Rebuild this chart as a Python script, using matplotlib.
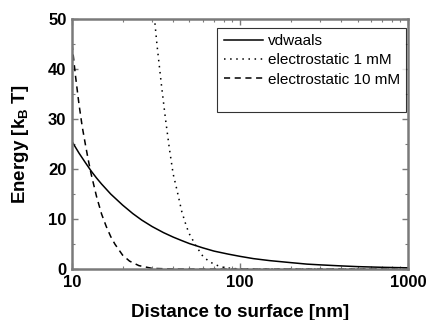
import matplotlib
matplotlib.use('Agg')
import matplotlib.pyplot as plt
from matplotlib.ticker import FixedLocator, FuncFormatter, MultipleLocator
from matplotlib.lines import Line2D

plt.rcParams['font.family'] = ['Liberation Sans', 'DejaVu Sans']
plt.rcParams['mathtext.fontset'] = 'custom'
plt.rcParams['mathtext.rm'] = 'Liberation Sans:bold'
plt.rcParams['mathtext.bf'] = 'Liberation Sans:bold'

# distance [nm] and energy [kB T]
d_vdw = [10, 11, 12, 13, 14, 15, 17, 20, 23, 26, 30, 35, 40, 45, 50, 60, 70, 85,
         100, 120, 150, 200, 250, 300, 400, 500, 700, 1000]
e_vdw = [25.5, 23.2, 21.3, 19.6, 18.2, 17.0, 15.0, 12.8, 11.1, 9.8, 8.5, 7.3, 6.4,
         5.7, 5.1, 4.25, 3.6, 3.0, 2.55, 2.1, 1.7, 1.3, 1.0, 0.85, 0.64, 0.5, 0.36, 0.26]

d_1mM = [28, 30, 32, 34, 36, 38, 40, 42, 45, 48, 50, 55, 60, 65, 70, 75, 80, 90,
         100, 120, 150, 300, 1000]
e_1mM = [64, 55, 45, 37, 30, 24, 19, 16, 11.5, 8.5, 7.0, 4.5, 2.6, 1.6, 1.0, 0.6,
         0.35, 0.12, 0.05, 0.01, 0.0, 0.0, 0.0]

d_10mM = [10, 10.5, 11, 11.5, 12, 12.5, 13, 14, 15, 16, 17, 18, 20, 22, 25, 30, 40,
          60, 100, 1000]
e_10mM = [45, 38.5, 33, 28.5, 25, 21.8, 19, 14.5, 11, 8.5, 6.5, 5.0, 2.8, 1.6, 0.7,
          0.15, 0.02, 0.0, 0.0, 0.0]

fig = plt.figure(figsize=(4.26, 3.2), dpi=100)
ax = fig.add_axes([0.169, 0.159, 0.789, 0.782])

ax.plot(d_vdw, e_vdw, color='black', lw=1.1, ls='-', label='vdwaals')
ax.plot(d_1mM, e_1mM, color='black', lw=1.1, ls=(0, (1, 3)), label='electrostatic 1 mM')
ax.plot(d_10mM, e_10mM, color='black', lw=1.1, ls=(0, (4, 3)), label='electrostatic 10 mM')

ax.set_xscale('log')
ax.set_xlim(10, 1000)
ax.set_ylim(0, 50)

ax.xaxis.set_major_locator(FixedLocator([10, 100, 1000]))
ax.xaxis.set_major_formatter(FuncFormatter(lambda v, p: '%d' % v))
ax.yaxis.set_major_locator(MultipleLocator(10))
ax.yaxis.set_minor_locator(MultipleLocator(5))

for s in ax.spines.values():
    s.set_color('#7a7a7a')
    s.set_linewidth(1.8)
ax.tick_params(which='both', direction='in', top=True, right=True, color='#7a7a7a')
ax.tick_params(which='major', length=4, width=1, labelsize=12, pad=4)
ax.tick_params(which='minor', length=2.5, width=0.8)
for t in ax.get_xticklabels() + ax.get_yticklabels():
    t.set_fontweight('bold')

ax.set_xlabel('Distance to surface [nm]', fontsize=13.5, fontweight='bold', labelpad=10)
ax.set_ylabel(r'Energy [k$_\mathbf{B}$ T]', fontsize=13.5, fontweight='bold', labelpad=12)

h, l = ax.get_legend_handles_labels()
h.append(Line2D([], [], color='none'))
l.append(' ')
leg = ax.legend(h, l, loc='upper right', bbox_to_anchor=(0.994, 0.964), borderaxespad=0,
                fontsize=11, frameon=True, fancybox=False, handlelength=2.6,
                handletextpad=0.3, labelspacing=0.35, borderpad=0.4)
leg.get_frame().set_edgecolor('black')
leg.get_frame().set_linewidth(0.8)

plt.savefig('out.png', dpi=100)
